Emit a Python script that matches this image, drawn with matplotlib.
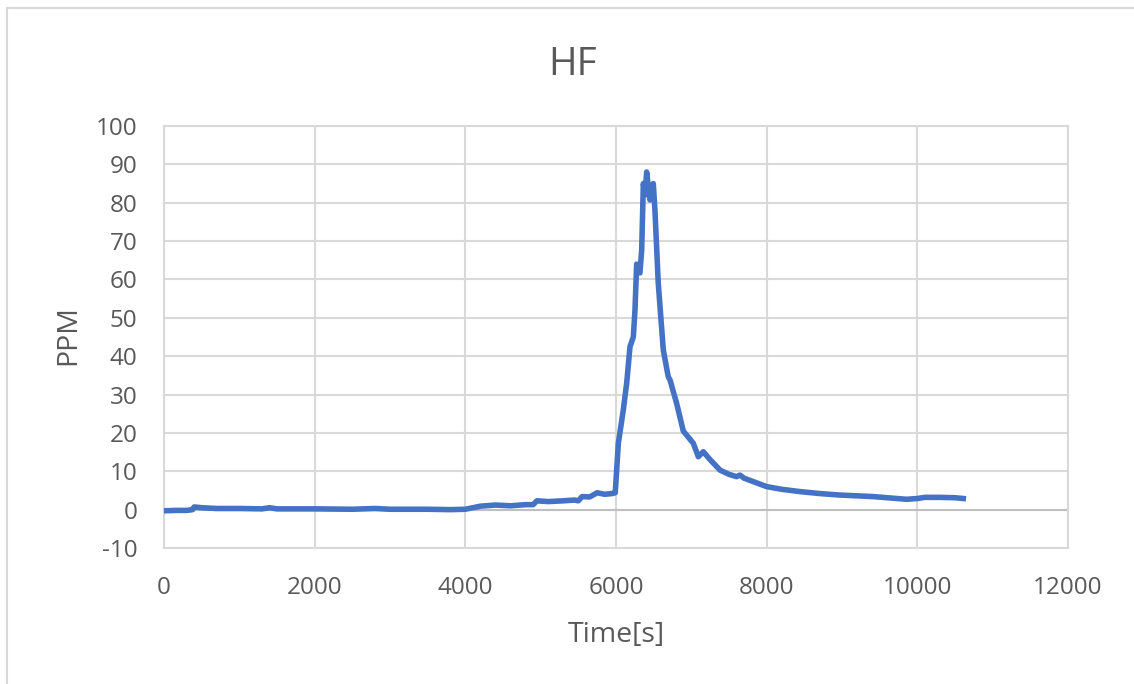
import matplotlib.pyplot as plt
from matplotlib.patches import Rectangle

# HF concentration over time
time_s = [0, 150, 300, 380, 400, 500, 700, 1000, 1300, 1400, 1500, 2000, 2500,
          2800, 3000, 3500, 3800, 4000, 4100, 4200, 4400, 4600, 4800, 4900,
          4950, 5100, 5300, 5450, 5500, 5550, 5650, 5750, 5850, 5950, 5990,
          6031, 6097, 6142, 6186, 6230, 6252, 6274, 6300, 6318, 6341, 6363,
          6385, 6407, 6430, 6451, 6475, 6495, 6517, 6561, 6628, 6694, 6717,
          6805, 6893, 7026, 7093, 7159, 7250, 7381, 7500, 7602, 7646, 7700,
          8000, 8200, 8442, 8700, 8973, 9200, 9415, 9600, 9858, 10000, 10100,
          10301, 10500, 10610]
ppm = [-0.3, -0.2, -0.2, 0.0, 0.7, 0.5, 0.3, 0.3, 0.2, 0.5, 0.2, 0.2, 0.1,
       0.3, 0.1, 0.1, 0.0, 0.1, 0.5, 0.9, 1.2, 1.0, 1.3, 1.3,
       2.3, 2.1, 2.3, 2.5, 2.3, 3.4, 3.3, 4.4, 4.0, 4.2, 4.4,
       17.3, 26.0, 33.0, 42.5, 45.0, 52.0, 64.0, 62.0, 61.7, 67.7, 85.0,
       82.0, 88.0, 84.0, 80.7, 84.0, 85.0, 78.0, 59.0, 41.6, 34.6, 33.8,
       27.7, 20.5, 17.3, 13.8, 15.1, 13.0, 10.3, 9.2, 8.6, 9.0, 8.2,
       6.0, 5.3, 4.7, 4.2, 3.8, 3.6, 3.4, 3.1, 2.7, 2.9, 3.2,
       3.2, 3.1, 2.9]

x_ticks = [0, 2000, 4000, 6000, 8000, 10000, 12000]
y_ticks = [-10, 0, 10, 20, 30, 40, 50, 60, 70, 80, 90, 100]

text_col = '#595959'
grid_col = '#D9D9D9'
plt.rcParams['font.family'] = ['Open Sans', 'DejaVu Sans']
plt.rcParams['axes.unicode_minus'] = False

fig = plt.figure(figsize=(11.34, 6.84), dpi=100)
ax = fig.add_axes([164 / 1134, 1 - 548 / 684, 904 / 1134, 422 / 684])

# light chart border (only top and left are visible in the reference)
fig.patches.append(Rectangle((7 / 1134, -0.1), 1.2, 1 - 8 / 684 + 0.1,
                             transform=fig.transFigure, fill=False,
                             edgecolor=grid_col, lw=1.5))

ax.plot(time_s, ppm, color='#4472C4', lw=4, zorder=3)
ax.axhline(0, color='#BFBFBF', lw=1.5, zorder=2)

ax.set_xlim(0, 12000)
ax.set_ylim(-10, 100)
ax.set_xticks(x_ticks)
ax.set_yticks(y_ticks)
ax.grid(True, color=grid_col, lw=1.5, zorder=1)
ax.set_axisbelow(True)
for s in ax.spines.values():
    s.set_color(grid_col)
    s.set_linewidth(1.5)
ax.tick_params(length=0, labelsize=17.5, labelcolor=text_col)
ax.tick_params(axis='x', pad=20)
ax.tick_params(axis='y', pad=19)

fig.text(573 / 1134, 1 - 75 / 684, 'HF', fontsize=28, color=text_col,
         ha='center', va='baseline')
fig.text(616 / 1134, 1 - 642 / 684, 'Time[s]', fontsize=20.5,
         color=text_col, ha='center', va='baseline')
fig.text(75.5 / 1134, 1 - 335 / 684, 'PPM', fontsize=20.5, color=text_col,
         rotation=90, rotation_mode='anchor', ha='center', va='baseline')

fig.savefig('out.png', dpi=100)
